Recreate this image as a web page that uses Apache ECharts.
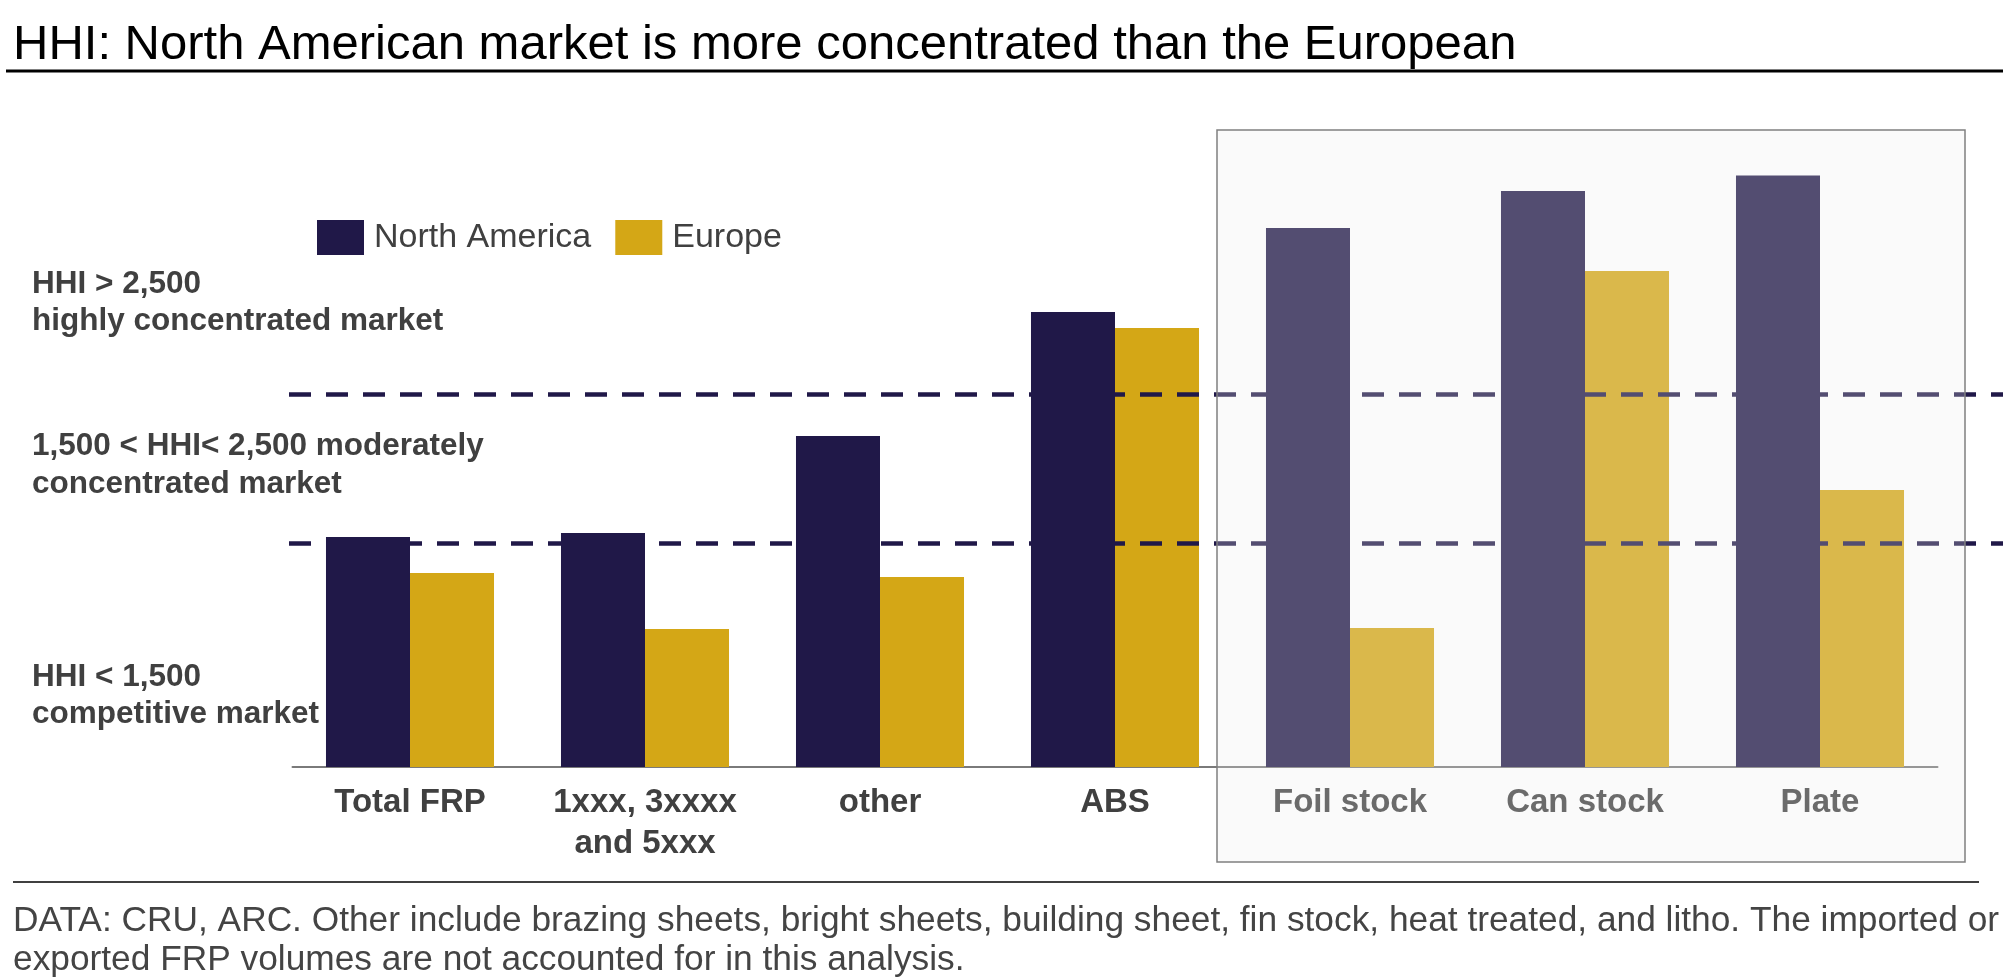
<!DOCTYPE html>
<html>
<head>
<meta charset="utf-8">
<script src="https://cdn.jsdelivr.net/npm/echarts@6/dist/echarts.min.js"></script>
<style>
html,body{margin:0;padding:0;background:#fff;}
#chart{width:2003px;height:980px;}
</style>
</head>
<body>
<div id="chart"></div>
<script>
var titleText = 'HHI: North American market is more concentrated than the European';
var categories = ['Total FRP', '1xxx, 3xxxx\nand 5xxx', 'other', 'ABS', 'Foil stock', 'Can stock', 'Plate'];
var northAmerica = [1544, 1570, 2221, 3054, 3617, 3866, 3970];
var europe = [1302, 926, 1275, 2946, 933, 3329, 1859];
var seriesNames = ['North America', 'Europe'];
var thresholds = [1500, 2500];
var zoneLabels = [
  ['HHI > 2,500', 'highly concentrated market'],
  ['1,500 < HHI< 2,500 moderately', 'concentrated market'],
  ['HHI < 1,500', 'competitive market']
];
var footnote = [
  'DATA: CRU, ARC. Other include brazing sheets, bright sheets, building sheet, fin stock, heat treated, and litho. The imported or',
  'exported FRP volumes are not accounted for in this analysis.'
];

var FONT = '"Liberation Sans", Arial, sans-serif';
var chart = echarts.init(document.getElementById('chart'));

var zoneY = [[284.5, 321.5], [446.5, 484.5], [677, 714]];
var graphics = [];
graphics.push({type:'text', z:50, style:{text:titleText, x:13, y:45, font:'49px ' + FONT, fill:'#000', textVerticalAlign:'middle'}});
graphics.push({type:'line', z:50, shape:{x1:6, y1:71, x2:2003, y2:71}, style:{stroke:'#000', lineWidth:3}});
zoneLabels.forEach(function(lines, i){
  lines.forEach(function(t, j){
    graphics.push({type:'text', z:50, style:{text:t, x:32, y:zoneY[i][j], font:'bold 31.5px ' + FONT, fill:'#404040', textVerticalAlign:'middle'}});
  });
});
graphics.push({type:'line', z:50, shape:{x1:13, y1:882, x2:1979, y2:882}, style:{stroke:'#404040', lineWidth:2}});
footnote.forEach(function(t, j){
  graphics.push({type:'text', z:50, style:{text:t, x:13, y:921 + j*39, font:'35.3px ' + FONT, fill:'#444444', textVerticalAlign:'middle'}});
});
graphics.push({type:'rect', z:100, shape:{x:1217, y:130, width:748, height:732}, style:{fill:'rgba(234,234,234,0.25)', stroke:'#808080', lineWidth:1.5}});

var option = {
  backgroundColor:'#ffffff',
  animation:false,
  textStyle:{fontFamily:FONT},
  legend:{
    left:312, top:215, itemWidth:47, itemHeight:35, itemGap:24,
    icon:'rect',
    data:seriesNames,
    textStyle:{fontSize:34, color:'#404040', padding:[0,0,0,5], fontFamily:FONT}
  },
  grid:[
    {left:292.5, right:65.5, top:171, bottom:213},
    {left:289, right:0, top:171, bottom:213}
  ],
  xAxis:[
    {type:'category', gridIndex:0, data:categories,
     axisLine:{lineStyle:{color:'#7a7a7a', width:2}},
     axisTick:{show:false},
     axisLabel:{fontSize:33, fontWeight:'bold', color:'#404040', lineHeight:41, margin:15, verticalAlign:'top', interval:0, fontFamily:FONT}},
    {type:'value', gridIndex:1, min:0, max:1, show:false}
  ],
  yAxis:[
    {type:'value', gridIndex:0, min:0, max:4000, show:false, splitLine:{show:false}},
    {type:'value', gridIndex:1, min:0, max:4000, show:false, splitLine:{show:false}}
  ],
  series:[
    {name:seriesNames[0], type:'bar', data:northAmerica, barGap:'0%', barCategoryGap:'28.5%',
     itemStyle:{color:'#201848'}},
    {name:seriesNames[1], type:'bar', data:europe, barGap:'0%', barCategoryGap:'28.5%',
     itemStyle:{color:'#d4a716'}},
    {name:'thresholds', type:'line', xAxisIndex:1, yAxisIndex:1, data:[], z:5, silent:true,
     markLine:{silent:true, symbol:'none', label:{show:false},
       lineStyle:{color:'#201848', width:4.5, type:[22,15]},
       data:thresholds.map(function(v){return {yAxis:v};})}}
  ],
  graphic:{z:50, elements:graphics}
};
chart.setOption(option);
</script>
</body>
</html>
